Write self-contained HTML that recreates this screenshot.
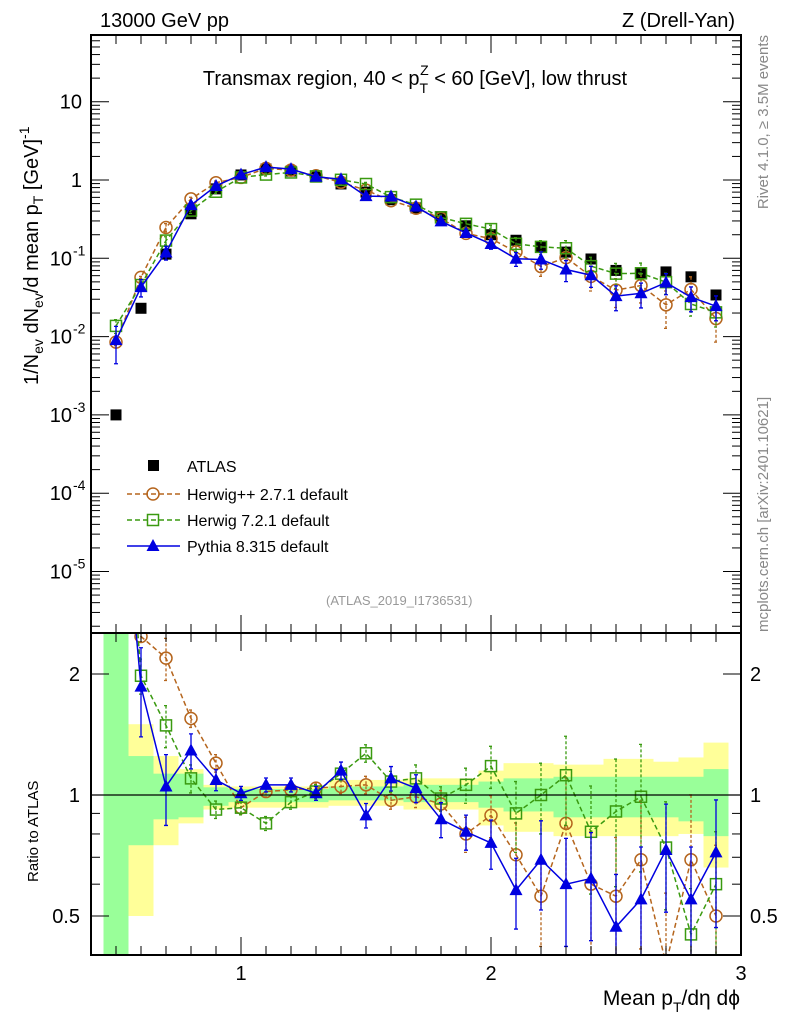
<!DOCTYPE html>
<html><head><meta charset="utf-8"><style>
html,body{margin:0;padding:0;background:#fff;overflow:hidden;width:786px;height:1024px}
svg{display:block}
svg text{font-family:"Liberation Sans","DejaVu Sans",sans-serif}
</style></head><body>
<svg id="c" width="786" height="1024" xmlns="http://www.w3.org/2000/svg">
<g id="bands"></g><g id="marks"></g><g id="axes"></g>
<text x="100" y="27" font-size="20">13000 GeV pp</text>
<text x="735" y="27" font-size="20" text-anchor="end">Z (Drell-Yan)</text>
<text x="415" y="85" font-size="20" text-anchor="middle">Transmax region, 40 &lt; p<tspan font-size="14" dy="8">T</tspan><tspan font-size="14" dx="-8" dy="-18">Z</tspan><tspan dy="10"> &lt; 60 [GeV], low thrust</tspan></text>
<text x="326" y="605" font-size="13" fill="#999">(ATLAS_2019_I1736531)</text>
<text transform="translate(768,35) rotate(-90)" font-size="15" fill="#888" text-anchor="end">Rivet 4.1.0, ≥ 3.5M events</text>
<text transform="translate(768,632) rotate(-90)" font-size="15" fill="#888">mcplots.cern.ch [arXiv:2401.10621]</text>
<text transform="translate(38,385) rotate(-90)" font-size="20">1/N<tspan font-size="14" dy="5">ev</tspan><tspan dy="-5"> dN</tspan><tspan font-size="14" dy="5">ev</tspan><tspan dy="-5">/d mean p</tspan><tspan font-size="14" dy="5">T</tspan><tspan dy="-5"> [GeV]</tspan><tspan font-size="14" dy="-9">-1</tspan></text>
<text transform="translate(38,882) rotate(-90)" font-size="15">Ratio to ATLAS</text>
<text x="740" y="1005" font-size="21" text-anchor="end">Mean p<tspan font-size="14" dy="7">T</tspan><tspan dy="-7">/dη dϕ</tspan></text>
<g id="legend"></g>
</svg>
<script>
const xCenters=[0.5,0.6,0.7,0.8,0.9,1.0,1.1,1.2,1.3,1.4,1.5,1.6,1.7,1.8,1.9,2.0,2.1,2.2,2.3,2.4,2.5,2.6,2.7,2.8,2.9];
const atlas=[0.001,0.023,0.113,0.37,0.77,1.16,1.38,1.3,1.09,0.89,0.70,0.56,0.44,0.34,0.26,0.20,0.17,0.14,0.12,0.098,0.07,0.065,0.067,0.058,0.034];
const ratioPythia=[9.0,1.86,1.05,1.29,1.09,1.01,1.06,1.06,1.01,1.15,0.89,1.10,1.04,0.87,0.81,0.76,0.58,0.69,0.60,0.62,0.47,0.55,0.73,0.55,0.72];
const ratioHerwigPP=[8.5,2.48,2.19,1.55,1.20,0.93,1.02,1.03,1.04,1.05,1.06,0.97,0.99,0.95,0.80,0.89,0.71,0.56,0.85,0.60,0.56,0.69,0.38,0.69,0.50];
const ratioHerwig7=[13.7,1.98,1.49,1.10,0.92,0.93,0.85,0.96,1.02,1.13,1.27,1.08,1.10,0.98,1.06,1.18,0.90,1.0,1.12,0.81,0.91,0.99,0.74,0.45,0.60];
const errPythia=[0.5,0.25,0.2,0.1,0.06,0.04,0.04,0.04,0.04,0.05,0.07,0.07,0.08,0.1,0.1,0.14,0.2,0.25,0.3,0.3,0.35,0.35,0.3,0.35,0.35];
const errHerwigPP=[0.1,0.03,0.12,0.05,0.05,0.04,0.03,0.03,0.03,0.04,0.05,0.05,0.06,0.08,0.1,0.12,0.2,0.25,0.3,0.35,0.4,0.4,0.5,0.45,0.5];
const errHerwig7=[0.2,0.1,0.12,0.08,0.05,0.04,0.04,0.04,0.04,0.04,0.05,0.06,0.08,0.07,0.1,0.12,0.2,0.2,0.25,0.3,0.35,0.35,0.3,0.3,0.35];
const bandYellowUp=[3,1.5,1.25,1.16,1.06,1.05,1.05,1.05,1.05,1.09,1.09,1.09,1.1,1.1,1.1,1.15,1.2,1.2,1.19,1.19,1.23,1.23,1.21,1.24,1.35];
const bandYellowDn=[0.3,0.5,0.75,0.85,0.92,0.93,0.93,0.93,0.93,0.94,0.94,0.94,0.92,0.92,0.92,0.84,0.81,0.81,0.79,0.79,0.79,0.79,0.79,0.8,0.66];
const bandGreenUp=[3,1.25,1.13,1.13,1.045,1.035,1.035,1.035,1.035,1.05,1.05,1.05,1.06,1.06,1.06,1.08,1.1,1.1,1.11,1.11,1.11,1.11,1.11,1.11,1.16];
const bandGreenDn=[0.3,0.75,0.87,0.88,0.94,0.96,0.96,0.96,0.96,0.97,0.97,0.97,0.96,0.96,0.96,0.93,0.91,0.91,0.88,0.88,0.88,0.88,0.88,0.86,0.79];
const xTickLabels=["1","2","3"];
const yTickLabels=["10","1","10","10","10","10","10"];

const NS="http://www.w3.org/2000/svg";
const L=91,R=741,T=35,MB=633,RB=955;
const X=v=>241+(v-1)*250;
const Y=v=>180-78.3*Math.log10(v);
const RY=r=>795-121*Math.log2(r);
function el(tag,attrs,parent){const e=document.createElementNS(NS,tag);for(const k in attrs)e.setAttribute(k,attrs[k]);parent.appendChild(e);return e;}
const bands=document.getElementById('bands'),marks=document.getElementById('marks'),axes=document.getElementById('axes');
const clipR=el('clipPath',{id:'cr'},document.getElementById('c'));el('rect',{x:L,y:MB,width:R-L,height:RB-MB},clipR);
const clipM=el('clipPath',{id:'cm'},document.getElementById('c'));el('rect',{x:L,y:T,width:R-L,height:MB-T},clipM);
bands.setAttribute('clip-path','url(#cr)');
xCenters.forEach((x,i)=>{
  const y=el('rect',{x:X(x-0.05),width:25,y:RY(bandYellowUp[i]),height:RY(bandYellowDn[i])-RY(bandYellowUp[i]),fill:'#ffff99'},bands);
  
  
  const g=el('rect',{x:X(x-0.05),width:25,y:RY(bandGreenUp[i]),height:RY(bandGreenDn[i])-RY(bandGreenUp[i]),fill:'#99ff99'},bands);
  
  
});
const mg=el('g',{'clip-path':'url(#cm)'},marks);
const rg=el('g',{'clip-path':'url(#cr)'},marks);
xCenters.forEach((x,i)=>{
  const s=el('rect',{x:X(x)-5.5,y:Y(atlas[i])-5.5,width:11,height:11,fill:'#000'},mg);
  
  
});
const series=[
 {r:ratioHerwigPP,e:errHerwigPP,c:'#b5651d',dash:'5,3',m:'circle',name:'herwigpp'},
 {r:ratioHerwig7,e:errHerwig7,c:'#3a9a10',dash:'5,3',m:'square',name:'herwig7'},
 {r:ratioPythia,e:errPythia,c:'#0000e0',dash:'',m:'tri',name:'pythia'}];
function marker(g,m,c,x,y,name){
  let e;
  if(m==='circle')e=el('circle',{cx:x,cy:y,r:6,fill:'none',stroke:c,'stroke-width':1.5},g);
  else if(m==='square')e=el('rect',{x:x-5.5,y:y-5.5,width:11,height:11,fill:'none',stroke:c,'stroke-width':1.5},g);
  else e=el('polygon',{points:`${x},${y-7} ${x-6.5},${y+5} ${x+6.5},${y+5}`,fill:c},g);
  
  
}
series.forEach(s=>{
  const mv=s.r.map((r,i)=>r*atlas[i]);
  [[mg,mv,Y],[rg,s.r,RY]].forEach(([g,vals,F],k)=>{
    const pl=el('polyline',{points:xCenters.map((x,i)=>X(x)+','+F(vals[i])).join(' '),fill:'none',stroke:s.c,'stroke-width':1.5,'stroke-dasharray':s.dash},g);
    
    
    xCenters.forEach((x,i)=>{
      const v=vals[i],e=s.e[i];
      const eb=el('path',{d:`M${X(x)},${F(v*(1+e))}V${F(Math.max(v*(1-e),1e-9))}M${X(x)-2},${F(v*(1+e))}h4M${X(x)-2},${F(Math.max(v*(1-e),1e-9))}h4`,stroke:s.c,'stroke-width':1.3,'stroke-dasharray':s.dash?'3,2':'',fill:'none'},g);
      
      
      marker(g,s.m,s.c,X(x),F(v),s.name+(k?'-ratio-point':'-point'));
    });
  });
});
el('line',{x1:L,x2:R,y1:795,y2:795,stroke:'#000','stroke-width':1.3},axes);
[[T,MB],[MB,RB]].forEach(([t,b])=>el('rect',{x:L,y:t,width:R-L,height:b-t,fill:'none',stroke:'#000','stroke-width':2},axes));
for(let k=4;k<=30;k++){const v=k/10,x=X(v),big=(k%10===0),h=big?18:9;
  [[T,1],[MB,-1],[MB,1],[RB,-1]].forEach(([y,d])=>el('line',{x1:x,x2:x,y1:y,y2:y+d*h,stroke:'#000','stroke-width':1},axes));}
xTickLabels.forEach((t,i)=>{const tx=el('text',{x:X(i+1),y:980,'font-size':20,'text-anchor':'middle'},axes);tx.textContent=t;
  
  });
for(let d=-6;d<=1;d++){for(let m=1;m<10;m++){const v=m*Math.pow(10,d),y=Y(v);if(y<T||y>MB)continue;const h=m===1?18:9;
  el('line',{x1:L,x2:L+h,y1:y,y2:y,stroke:'#000'},axes);el('line',{x1:R,x2:R-h,y1:y,y2:y,stroke:'#000'},axes);}}
yTickLabels.forEach((t,i)=>{const e=1-i,y=Y(Math.pow(10,e));const tx=el('text',{x:e>=0?82:72,y:y+7,'font-size':20,'text-anchor':'end'},axes);tx.textContent=t;
  
  
  if(e<0){const sp=el('text',{x:73,y:y-3,'font-size':14},axes);sp.textContent=String(e);
  
  }});
[0.4,0.5,0.6,0.7,0.8,0.9,1,2].forEach(r=>{const y=RY(r),h=(r===0.5||r===1||r===2)?18:9;
  el('line',{x1:L,x2:L+h,y1:y,y2:y,stroke:'#000'},axes);el('line',{x1:R,x2:R-h,y1:y,y2:y,stroke:'#000'},axes);});
[['2',2],['1',1],['0.5',0.5]].forEach(([t,r])=>{
  const a=el('text',{x:80,y:RY(r)+7,'font-size':20,'text-anchor':'end'},axes);a.textContent=t;
  
  
  const b=el('text',{x:750,y:RY(r)+7,'font-size':20},axes);b.textContent=t;
  
  });
const lg=document.getElementById('legend');
const le=[['ATLAS',null,466],['Herwig++ 2.7.1 default',series[0],494],['Herwig 7.2.1 default',series[1],520],['Pythia 8.315 default',series[2],546]];
le.forEach(([t,s,y])=>{
  if(!s){const r=el('rect',{x:148,y:y-6,width:11,height:11,fill:'#000'},lg);}
  else{el('line',{x1:127,x2:180,y1:y,y2:y,stroke:s.c,'stroke-width':1.5,'stroke-dasharray':s.dash},lg);marker(lg,s.m,s.c,153,y,'legend-'+s.name+'-marker');}
  const tx=el('text',{x:187,y:y+6,'font-size':16},lg);tx.textContent=t;
  
  
});
</script>
</body></html>
